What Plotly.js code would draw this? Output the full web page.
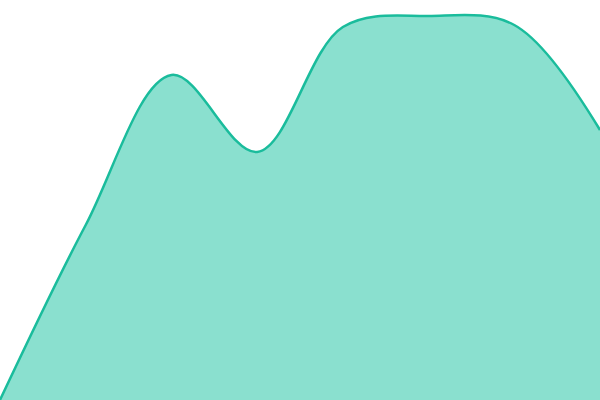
<!DOCTYPE html>
<html>
<head>
<meta charset="utf-8">
<script src="https://cdn.plot.ly/plotly-3.0.1.min.js"></script>
<style>
  html, body { margin: 0; padding: 0; background: #fff; }
  #area { width: 600px; height: 400px; }
</style>
</head>
<body>
<div id="area"></div>
<script>
var steps = [0, 1, 2, 3, 4, 5, 6, 7];
var values = [0, 175, 325, 248, 373, 384, 375, 270];

var trace = {
    x: steps,
    y: values,
    type: 'scatter',
    mode: 'lines',
    fill: 'tozeroy',
    fillcolor: '#8ae0cf',
    line: {color: '#1abc9c', width: 2.5, shape: 'spline', smoothing: 1},
    hoverinfo: 'none'
};

var layout = {
    width: 600,
    height: 400,
    margin: {l: 0, r: 0, t: 0, b: 0},
    paper_bgcolor: '#fff',
    plot_bgcolor: '#fff',
    showlegend: false,
    xaxis: {range: [0, 7], visible: false, fixedrange: true},
    yaxis: {range: [0, 400], visible: false, fixedrange: true}
};

Plotly.newPlot('area', [trace], layout, {displayModeBar: false, staticPlot: true});
</script>
</body>
</html>
